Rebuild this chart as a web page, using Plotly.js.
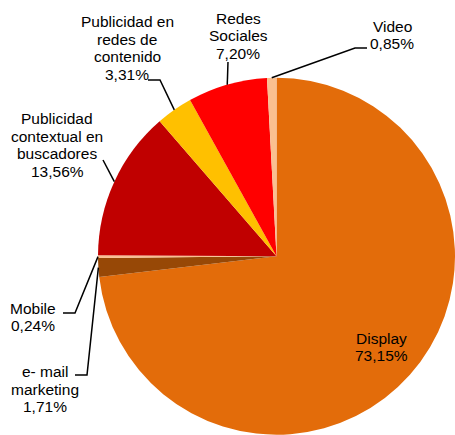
<!DOCTYPE html>
<html><head><meta charset="utf-8">
<script src="https://cdn.plot.ly/plotly-3.0.1.min.js"></script>
<style>html,body{margin:0;padding:0;background:#fff}#chart{width:455px;height:435px}</style>
</head><body><div id="chart"></div>
<script>
// Data (clockwise from 12 o'clock)
const categories = ["Display", "e- mail marketing", "Mobile", "Publicidad contextual en buscadores", "Publicidad en redes de contenido", "Redes Sociales", "Video"];
const values = [73.15, 1.71, 0.24, 13.56, 3.31, 7.20, 0.85];
const labelLines = [["Display"], ["e- mail", "marketing"], ["Mobile"], ["Publicidad", "contextual en", "buscadores"], ["Publicidad en", "redes de", "contenido"], ["Redes", "Sociales"], ["Video"]];
const valueTexts = ["73,15%", "1,71%", "0,24%", "13,56%", "3,31%", "7,20%", "0,85%"];
const colors = ["#E36C0A", "#974806", "#FAC090", "#C00000", "#FFC000", "#FF0000", "#FAC090"];

// Layout constants (pixels)
const W = 455, H = 435;
const dom = {x: [0.2154, 1], y: [0, 0.8218]};
const cx = (dom.x[0] + dom.x[1]) / 2 * W;
const cy = H - (dom.y[0] + dom.y[1]) / 2 * H;
const R = Math.min((dom.x[1] - dom.x[0]) * W, (dom.y[1] - dom.y[0]) * H) / 2;
const lineH = 17.5;

// label centers and leader elbows/ends (pixels)
const labelPos = [[381, 347], [45, 389], [33, 317], [57, 145], [127, 48], [238, 36], [392, 35]];
const leaders = [null, [[87, 375], [75, 375]], [[75, 313], [63, 313]], [[103, 160], [103, 160]], [[160, 80], [148, 80]], [[228, 62], [228, 62]], [[355, 48], [367, 48]]];

const px = x => x / W, py = y => 1 - y / H;
const total = values.reduce((a, b) => a + b, 0);
let cum = 0;
const annotations = [], shapes = [];
values.forEach((v, i) => {
  const mid = (cum + v / 2) / total * 2 * Math.PI;
  cum += v;
  const ex = cx + R * Math.sin(mid), ey = cy - R * Math.cos(mid);
  const lines = labelLines[i].concat([valueTexts[i]]);
  const y0 = labelPos[i][1] - (lines.length - 1) * lineH / 2;
  lines.forEach((t, k) => {
    annotations.push({
      x: px(labelPos[i][0]), y: py(y0 + k * lineH), xref: 'paper', yref: 'paper',
      xanchor: 'center', yanchor: 'middle', showarrow: false, align: 'center',
      text: t,
      font: {family: 'Liberation Sans, Arial, sans-serif', size: 15.5, color: '#000'}
    });
  });
  if (leaders[i]) {
    const [e1, e2] = leaders[i];
    shapes.push({
      type: 'path', xref: 'paper', yref: 'paper', layer: 'above',
      path: `M ${px(ex)},${py(ey)} L ${px(e1[0])},${py(e1[1])} L ${px(e2[0])},${py(e2[1])}`,
      line: {color: '#000', width: 1.5}
    });
  }
});

Plotly.newPlot('chart', [{
  type: 'pie', labels: categories, values: values, sort: false, direction: 'clockwise', rotation: 0,
  marker: {colors: colors, line: {width: 0}}, textinfo: 'none', hoverinfo: 'label+percent',
  domain: dom, showlegend: false
}], {
  width: W, height: H, margin: {l: 0, r: 0, t: 0, b: 0},
  paper_bgcolor: '#fff', plot_bgcolor: '#fff', showlegend: false,
  annotations: annotations, shapes: shapes
}, {displayModeBar: false, staticPlot: true});
</script></body></html>
